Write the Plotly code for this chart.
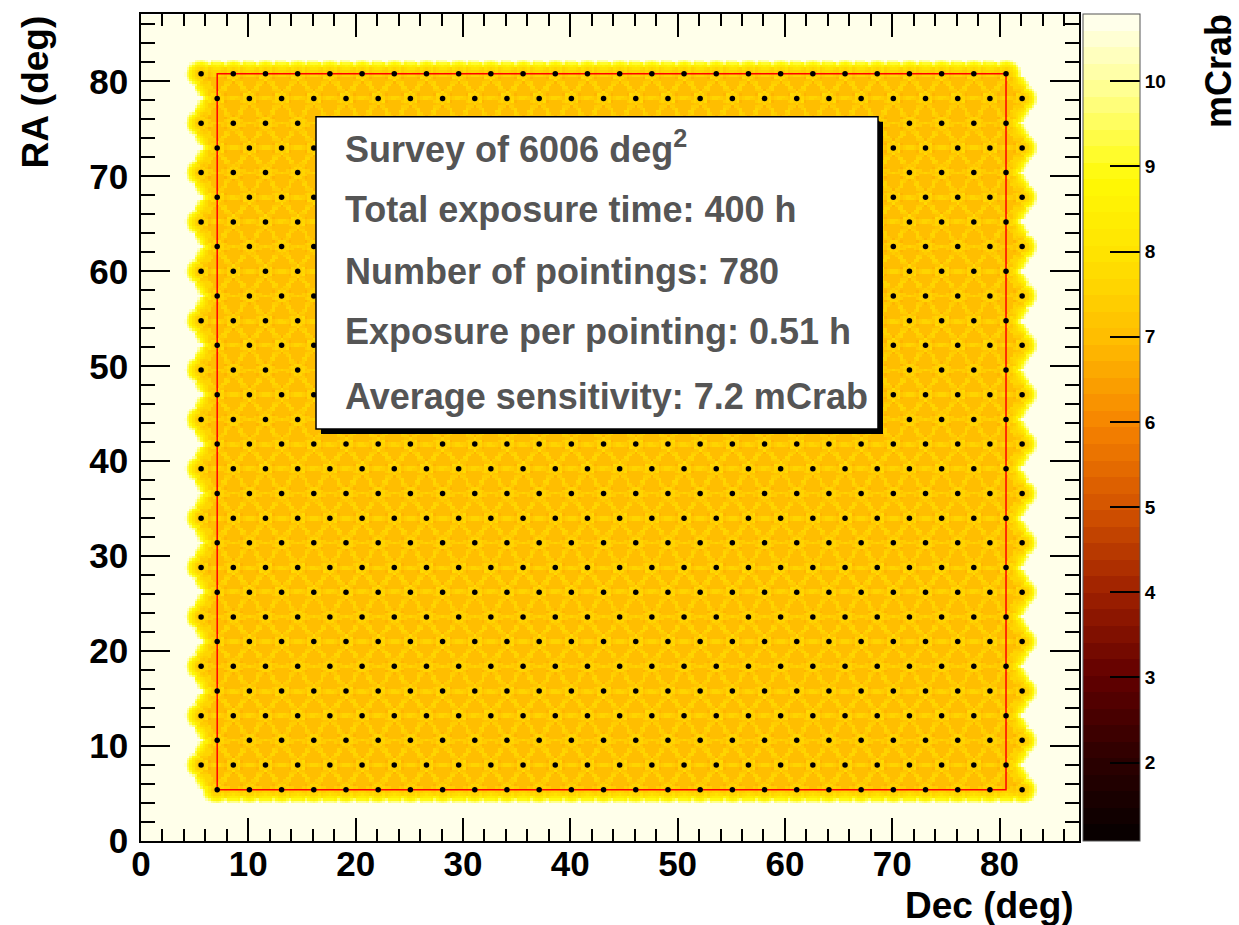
import numpy as np
import plotly.graph_objects as go

# ---------------- data ----------------
# RA of the 30 pointing rows (deg), bottom to top
RA_ROWS = [5.4, 8.0, 10.6, 13.2, 15.8, 18.4, 21.0, 23.6, 26.2, 28.8,
           31.4, 34.0, 36.6, 39.2, 41.8, 44.4, 47.0, 49.6, 52.2, 54.8,
           57.4, 60.0, 62.6, 65.2, 67.8, 70.4, 73.0, 75.6, 78.2, 80.8]
# Dec of the pointings in even rows (0, 2, 4, ...) and odd rows
DEC_EVEN = [7.1, 10.1, 13.1, 16.1, 19.1, 22.1, 25.1, 28.1, 31.1, 34.1,
            37.1, 40.1, 43.1, 46.1, 49.1, 52.1, 55.1, 58.1, 61.1, 64.1,
            67.1, 70.1, 73.1, 76.1, 79.1, 82.1]
DEC_ODD = [5.6, 8.6, 11.6, 14.6, 17.6, 20.6, 23.6, 26.6, 29.6, 32.6,
           35.6, 38.6, 41.6, 44.6, 47.6, 50.6, 53.6, 56.6, 59.6, 62.6,
           65.6, 68.6, 71.6, 74.6, 77.6, 80.6]

AXIS_TICKS = [0, 10, 20, 30, 40, 50, 60, 70, 80]
CBAR_TICKS = [2, 3, 4, 5, 6, 7, 8, 9, 10]
SENS_MIN = 1.08
SENS_MAX = 10.79
AVG_SENS = 7.2          # mCrab
EXPOSURE_PER_POINTING = 0.51  # h

INFO_LINES = [
    "Survey of 6006 deg<sup>2</sup>",
    "Total exposure time: 400 h",
    "Number of pointings: 780",
    "Exposure per pointing: 0.51 h",
    "Average sensitivity: 7.2 mCrab",
]

# ---------------- pointing list ----------------
pt_dec, pt_ra = [], []
for j, ra in enumerate(RA_ROWS):
    row = DEC_EVEN if j % 2 == 0 else DEC_ODD
    for dec in row:
        pt_dec.append(dec)
        pt_ra.append(ra)
pt_dec = np.array(pt_dec)
pt_ra = np.array(pt_ra)

# ---------------- sensitivity map from the pointings ----------------
XMAX, YMAX = 87.4, 87.1
STEP = 0.25
gx = np.arange(STEP / 2, XMAX, STEP)
gy = np.arange(STEP / 2, YMAX, STEP)
GX, GY = np.meshgrid(gx, gy)
expo = np.zeros_like(GX)
SIG, RCUT = 1.2, 2.4
for d, r in zip(pt_dec, pt_ra):
    rr2 = (GX - d) ** 2 + (GY - r) ** 2
    m = rr2 < RCUT ** 2
    expo[m] += EXPOSURE_PER_POINTING * np.exp(-rr2[m] / (2 * SIG ** 2))

sraw = np.where(expo > 0, 1.0 / np.sqrt(np.maximum(expo, 1e-12)), np.inf)
inside = ((GX >= DEC_EVEN[0]) & (GX <= DEC_ODD[-1]) &
          (GY >= RA_ROWS[0]) & (GY <= RA_ROWS[-1]))
K = AVG_SENS / np.mean(sraw[inside])
sens = np.clip(K * sraw, SENS_MIN, SENS_MAX)

# ---------------- colour palette (50 discrete levels) ----------------
anchors = [
    (0.00, (5, 0, 0)),
    (0.10, (45, 0, 0)),
    (0.20, (98, 0, 0)),
    (0.30, (158, 32, 0)),
    (0.40, (210, 82, 0)),
    (0.50, (246, 130, 0)),
    (0.60, (255, 186, 0)),
    (0.65, (255, 205, 0)),
    (0.70, (255, 224, 0)),
    (0.80, (255, 250, 5)),
    (0.90, (255, 255, 135)),
    (1.00, (255, 255, 245)),
]


def col_at(f):
    for (f0, c0), (f1, c1) in zip(anchors[:-1], anchors[1:]):
        if f <= f1:
            t = (f - f0) / (f1 - f0)
            return tuple(int(round(a + (b - a) * t)) for a, b in zip(c0, c1))
    return anchors[-1][1]


NLEV = 50
cscale = []
for k in range(NLEV):
    c = col_at((k + 0.5) / NLEV)
    cs = "rgb(%d,%d,%d)" % c
    cscale.append([k / NLEV, cs])
    cscale.append([(k + 1) / NLEV, cs])

FONT = "Liberation Sans, Arial, Helvetica, sans-serif"

fig = go.Figure()
fig.add_trace(go.Heatmap(
    x=gx, y=gy, z=sens, zmin=SENS_MIN, zmax=SENS_MAX,
    colorscale=cscale, zsmooth=False, hoverinfo="skip",
    colorbar=dict(
        x=1.0043, xanchor="left", xpad=0, ypad=0,
        y=0.5, yanchor="middle", len=1, lenmode="fraction",
        thickness=57, thicknessmode="pixels",
        outlinewidth=1, outlinecolor="#555555",
        ticks="inside", ticklen=30, tickwidth=1.5, tickcolor="black",
        tickvals=CBAR_TICKS,
        tickfont=dict(family=FONT, size=19, color="black", weight="bold"),
    ),
))

# red survey rectangle (derived from the pointing grid)
rx = [DEC_EVEN[0], DEC_ODD[-1], DEC_ODD[-1], DEC_EVEN[0], DEC_EVEN[0]]
ry = [RA_ROWS[0], RA_ROWS[0], RA_ROWS[-1], RA_ROWS[-1], RA_ROWS[0]]
fig.add_trace(go.Scatter(x=rx, y=ry, mode="lines",
                         line=dict(color="#ff0000", width=1.5),
                         hoverinfo="skip", showlegend=False))

fig.add_trace(go.Scatter(x=pt_dec, y=pt_ra, mode="markers",
                         marker=dict(color="black", size=5.5),
                         hoverinfo="skip", showlegend=False))

axis_common = dict(
    showline=True, linecolor="black", linewidth=1.5, mirror="ticks",
    ticks="inside", tickwidth=1.5, tickcolor="black",
    tickvals=AXIS_TICKS, showgrid=False, zeroline=False,
    tickfont=dict(family=FONT, size=35, color="black", weight="bold"),
)
fig.update_xaxes(range=[0, XMAX], ticklen=23,
                 minor=dict(dtick=2, ticklen=12, tickwidth=1.5,
                            tickcolor="black", ticks="inside"),
                 ticklabelstandoff=-9, **axis_common)
fig.update_yaxes(range=[0, YMAX], ticklen=29,
                 minor=dict(dtick=2, ticklen=14, tickwidth=1.5,
                            tickcolor="black", ticks="inside"),
                 ticklabelstandoff=4, **axis_common)


def px_x(p):
    return (p - 141) / 938


def px_y(p):
    return (841 - p) / 829


shapes = [
    dict(type="rect", xref="paper", yref="paper",
         x0=px_x(321), x1=px_x(883), y0=px_y(433), y1=px_y(120),
         fillcolor="black", line=dict(width=0)),
    dict(type="rect", xref="paper", yref="paper",
         x0=px_x(316), x1=px_x(878), y0=px_y(428), y1=px_y(115),
         fillcolor="white", line=dict(color="black", width=1.5)),
]

annotations = []
line_y = [145, 208, 270, 330, 395]
for txt, yy in zip(INFO_LINES, line_y):
    annotations.append(dict(
        text=txt, xref="paper", yref="paper", x=px_x(343), y=px_y(yy),
        xanchor="left", yanchor="middle", showarrow=False,
        font=dict(family=FONT, size=36, color="#555555", weight="bold")))

annotations += [
    dict(text="RA (deg)", xref="paper", yref="paper", x=px_x(35), y=px_y(12),
         xanchor="center", yanchor="top", textangle=-90, showarrow=False,
         font=dict(family=FONT, size=37, color="black", weight="bold")),
    dict(text="Dec (deg)", xref="paper", yref="paper", x=px_x(1076), y=px_y(906),
         xanchor="right", yanchor="middle", showarrow=False,
         font=dict(family=FONT, size=37, color="black", weight="bold")),
    dict(text="mCrab", xref="paper", yref="paper", x=px_x(1218), y=px_y(10),
         xanchor="center", yanchor="top", textangle=-90, showarrow=False,
         font=dict(family=FONT, size=36, color="black", weight="bold")),
]

fig.update_layout(
    width=1239, height=925, autosize=False,
    margin=dict(l=141, r=160, t=12, b=84, pad=0),
    paper_bgcolor="white", plot_bgcolor="white",
    showlegend=False, shapes=shapes, annotations=annotations,
)

fig.write_html("out.html")
